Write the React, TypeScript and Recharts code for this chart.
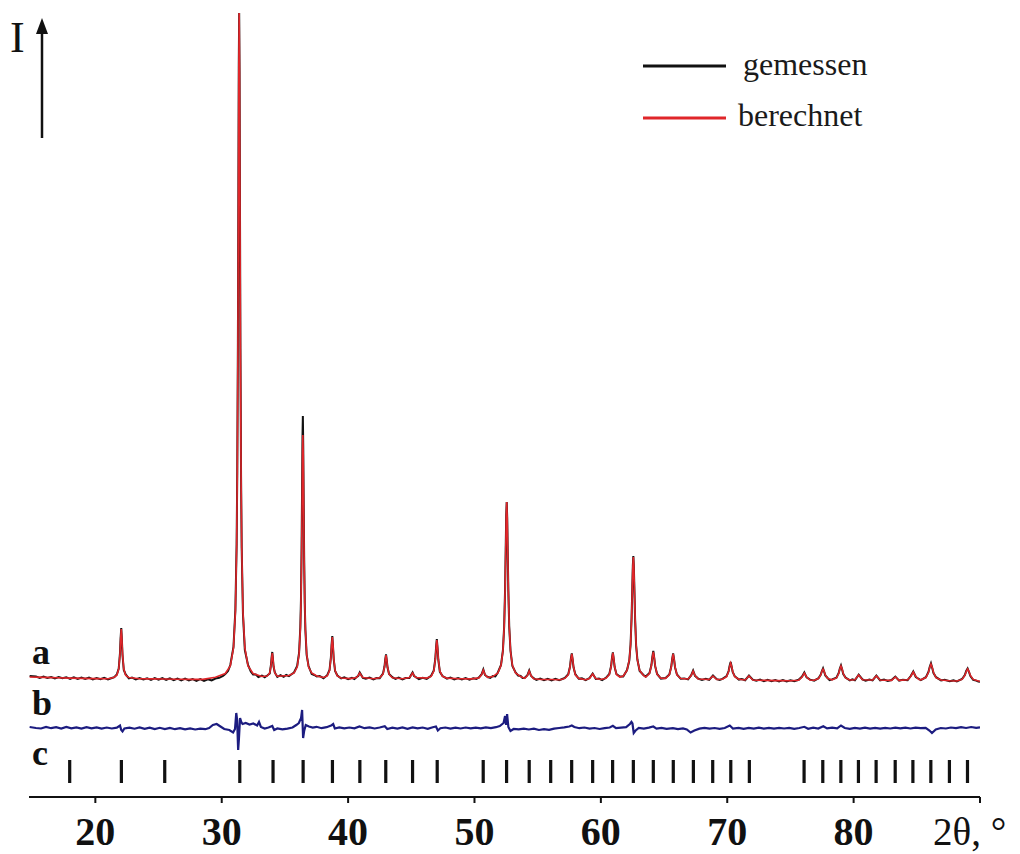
import React from 'react';
import { ComposedChart, Line, Scatter, XAxis, YAxis, Legend } from 'recharts';

// ---- data (2θ in degrees, intensity in arbitrary units incl. curve offsets) ----
const xTicks: number[] = [20, 30, 40, 50, 60, 70, 80, 90];
const axisTitle = '2θ, °';
const legendItems = [
  { name: 'gemessen', color: '#111111' },
  { name: 'berechnet', color: '#e0262a' },
];
const curveLabels = [
  { text: 'a', level: 133 },
  { text: 'b', level: 82 },
  { text: 'c', level: 32 },
];

// measured pattern (a, black)
const gemessen: [number, number][] = [
  [14.8,121],[15.3,120.5],[15.6,119],[15.9,120.5],[16.2,119],[16.5,120],[16.8,118.5],[17.1,120],[17.4,118.8],[17.7,119.8],[18.0,118.2],[18.3,119.6],[18.6,118],[18.9,119.4],[19.2,118],[19.5,119.5],[19.8,117.6],[20.1,119],[20.4,117.8],[20.7,119.2],[21.0,117.6],[21.3,119],[21.5,119.8],
  [21.7,122.5],[21.85,128.5],[21.95,144],[22.0,159],[22.05,169],[22.1,157],[22.15,142],[22.25,127],[22.4,122.5],[22.65,118.6],
  [22.9,119.5],[23.2,117.6],[23.5,119],[23.8,117.5],[24.1,118.8],[24.4,117.2],[24.7,119],[25.0,117.4],[25.3,118.8],[25.6,117.2],[25.9,118.6],[26.2,116.8],[26.5,118.5],[26.8,116.6],[27.1,118.4],[27.4,116.5],[27.7,118],[28.0,116.2],[28.3,117.8],[28.6,116],[28.9,117.6],[29.2,116.5],[29.5,118.5],[29.8,119.2],[30.1,121],[30.28,123],
  [30.5,126],[30.68,132],[30.93,150],[31.08,187],[31.18,253],[31.23,325],[31.28,455],[31.32,612],[31.35,732],[31.38,784],[31.41,725],[31.44,604],[31.48,448],[31.53,320],[31.58,249],[31.68,183],[31.83,147],[32.08,132],[32.3,125.5],[32.48,122.5],[32.7,122.5],[32.9,120],[33.18,121.5],[33.4,119.8],
  [33.6,121.5],[33.8,123.5],[33.9,132.5],[33.95,140],[34.0,145],[34.05,138.5],[34.1,130.5],[34.2,124.5],[34.4,120],[34.65,121.8],[34.9,120.2],[35.1,122],[35.32,120.8],
  [35.55,123],[35.72,124.5],[35.97,131],[36.12,144],[36.22,170],[36.27,197],[36.32,250],[36.36,311],[36.39,359],[36.42,381],[36.45,350],[36.48,303],[36.52,242],[36.57,193],[36.62,167],[36.72,142],[36.87,131],[37.12,123],[37.32,122],[37.52,120.5],[37.75,121],[38.05,118.8],
  [38.35,121.8],[38.53,127],[38.64,140],[38.695,152.5],[38.75,161],[38.805,150.5],[38.86,138],[38.97,126],[39.15,121.5],[39.45,118.5],[39.7,119.6],[40.0,117.8],[40.3,119.2],[40.5,118],
  [40.67,120],[40.8,121],[40.92,124.5],[41.04,122],[41.17,119],[41.4,118.2],[41.7,119.4],[42.0,117.6],[42.25,119],
  [42.5,118.8],[42.76,123.4],[42.88,130.5],[42.94,137.5],[43.0,142.5],[43.06,136.5],[43.12,129.5],[43.24,123],[43.5,119.8],[43.75,118],[44.0,119.3],[44.3,117.6],[44.55,119],
  [44.85,119],[44.98,122],[45.1,124.5],[45.22,121],[45.35,120],[45.6,117.8],[45.9,119.2],[46.22,118.2],
  [46.57,121.2],[46.78,126.5],[46.9,138],[46.96,149.5],[47.02,158],[47.08,148.5],[47.14,137],[47.26,125.2],[47.47,121],[47.82,118.3],[48.1,119.5],[48.4,117.6],[48.7,119],[49.0,117.5],[49.3,118.9],[49.6,117.4],[49.9,118.8],[50.15,118],
  [50.35,119.6],[50.57,122.8],[50.7,127.5],[50.83,122],[51.05,120],[51.25,119.2],
  [51.45,121],[51.65,120.5],[51.85,124.5],[52.1,132],[52.25,146.5],[52.35,171],[52.42,207],[52.47,247],[52.51,281],[52.55,295],[52.59,279],[52.63,245],[52.68,206],[52.75,170],[52.85,146.5],[53.0,131],[53.25,124.5],[53.45,121.5],[53.65,121],[53.8,119],
  [53.98,119.2],[54.19,121.8],[54.33,126.5],[54.47,121.2],[54.68,118.8],[54.9,117],[55.2,118.4],[55.5,116.8],[55.8,118.2],[56.1,116.6],[56.4,118.2],[56.7,116.8],[56.95,118],
  [57.15,119],[57.42,122.8],[57.56,130.5],[57.63,138.5],[57.7,143.5],[57.77,137.2],[57.84,129.5],[57.98,122.8],[58.25,118.2],[58.5,118.6],[58.8,116.8],
  [59.1,119],[59.35,123.5],[59.6,118],[59.85,118.4],[60.1,116.8],
  [60.4,119.2],[60.67,123],[60.81,131],[60.88,139],[60.95,144.5],[61.02,138],[61.09,130],[61.23,123],[61.5,120.5],
  [61.77,120.6],[62.07,127],[62.25,136.5],[62.35,152.5],[62.43,179],[62.49,210.5],[62.53,231.5],[62.57,241],[62.61,230.5],[62.65,209.5],[62.71,178],[62.79,151.5],[62.89,137.5],[63.07,126],[63.37,122],
  [63.55,120.4],[63.85,124],[64.0,132],[64.075,140],[64.15,146],[64.225,139],[64.3,130.6],[64.45,123],[64.75,118.4],
  [65.12,119],[65.42,122.6],[65.57,130.5],[65.645,138.2],[65.72,143.6],[65.795,137.4],[65.87,129.6],[66.02,122.6],[66.32,118.2],[66.6,118.6],
  [66.9,117.6],[67.15,121.8],[67.3,126.5],[67.45,121.2],[67.7,118.4],[68.0,117],[68.3,118.2],
  [68.57,117.2],[68.87,121.5],[69.17,117.8],[69.4,117],
  [69.62,118.2],[69.95,120.8],[70.11,126],[70.19,131.2],[70.27,135],[70.35,130.2],[70.43,125],[70.59,120.8],[70.92,117.4],[71.15,118],
  [71.42,116.8],[71.72,121.5],[72.02,117.4],[72.3,116.2],[72.6,117.4],[72.9,115.8],[73.2,117.2],[73.5,115.8],[73.8,117],[74.1,115.6],[74.4,117],[74.7,115.6],[75.0,116.8],[75.3,115.8],
  [75.65,117.2],[75.92,120.4],[76.1,124.5],[76.28,119.6],[76.55,117.4],[76.88,116.4],
  [77.22,118.8],[77.4,122.4],[77.49,126],[77.58,128.6],[77.67,125.2],[77.76,121.6],[77.94,119],[78.1,116.8],[78.3,117.6],
  [78.64,119.4],[78.82,124],[78.91,128.5],[79.0,131.5],[79.09,127.6],[79.18,123],[79.36,119.4],[79.7,116.6],[79.9,117.6],
  [80.1,116.8],[80.4,122.4],[80.7,117.6],[80.95,116.4],[81.25,117.4],[81.5,116.6],
  [81.8,121.4],[82.1,116.6],[82.4,117.4],[82.7,116],[83.0,117],
  [83.3,120.4],[83.6,116.4],[83.9,117.2],[84.27,116.8],
  [84.52,121],[84.72,125.5],[84.92,120],[85.17,118],[85.32,116.8],
  [85.72,119.8],[85.92,125],[86.02,130],[86.12,133.6],[86.22,129],[86.32,124],[86.52,119.8],[86.92,116.6],[87.2,117.2],[87.6,115.8],[87.9,116.6],[88.17,115.6],
  [88.58,118],[88.8,122],[88.91,126],[89.02,128.5],[89.13,125],[89.24,121],[89.46,117.2],[89.7,116.4],[89.87,115.4],[90,115.2],
];

// calculated pattern (a, red)
const berechnet: [number, number][] = [
  [14.8,120],[16,119.6],[17,119.2],[18,118.9],[19,118.6],[20,118.4],[21,118.3],
  [21.45,119.4],[21.7,121.8],[21.85,128],[21.95,143],[22.0,158],[22.05,168],[22.1,158],[22.15,143],[22.25,128],[22.4,121.8],[22.65,119.4],
  [23.5,118.3],[24.5,118.1],[25.5,118],[26.5,117.8],[27.5,117.6],[28.5,117.6],[29.5,119.8],
  [30.28,123.5],[30.68,131],[30.93,149],[31.08,185],[31.18,251],[31.23,323],[31.28,451],[31.32,608],[31.35,729],[31.38,784],[31.41,729],[31.44,608],[31.48,451],[31.53,323],[31.58,251],[31.68,185],[31.83,149],[32.08,131],[32.48,123.5],[33.18,120.5],
  [33.6,121],[33.8,124],[33.9,131.5],[33.95,139],[34.0,144],[34.05,139],[34.1,131.5],[34.2,124],[34.4,120.8],
  [35.32,121.5],[35.72,124],[35.97,130],[36.12,143],[36.22,168],[36.27,194],[36.32,240],[36.36,298],[36.39,342],[36.42,362],[36.45,342],[36.48,298],[36.52,240],[36.57,194],[36.62,168],[36.72,143],[36.87,130],[37.12,124],[37.52,121],
  [38.05,119.5],[38.35,121],[38.53,126.4],[38.64,139],[38.695,151.6],[38.75,160],[38.805,151.6],[38.86,139],[38.97,126.4],[39.15,121],[39.45,119],
  [40.2,118.4],[40.67,119.5],[40.8,121.5],[40.92,124],[41.04,121.5],[41.17,119.5],
  [42,118.3],[42.5,119.3],[42.76,122.8],[42.88,130],[42.94,137],[43.0,142],[43.06,137],[43.12,130],[43.24,122.8],[43.5,119.3],
  [44.3,118.2],[44.85,119.5],[44.98,121.5],[45.1,124],[45.22,121.5],[45.35,119.5],
  [46.22,118.9],[46.57,120.6],[46.78,125.8],[46.9,137.5],[46.96,149],[47.02,157],[47.08,149],[47.14,137.5],[47.26,125.8],[47.47,120.6],[47.82,118.9],
  [48.8,118.2],[49.8,118.1],[50.35,119.1],[50.57,122.5],[50.7,127],[50.83,122.5],[51.05,119.5],
  [51.45,120.4],[51.85,124],[52.1,131.6],[52.25,146],[52.35,170.6],[52.42,206.5],[52.47,246],[52.51,280],[52.55,295],[52.59,280],[52.63,246],[52.68,206.5],[52.75,170.6],[52.85,146],[53.0,131.6],[53.25,124],[53.65,120.4],
  [53.98,118.6],[54.19,121.5],[54.33,126],[54.47,121.5],[54.68,118.2],
  [55.3,117.5],[56.0,117.5],[56.8,117.3],
  [57.15,118.6],[57.42,122.2],[57.56,130],[57.63,137.8],[57.7,143],[57.77,137.8],[57.84,130],[57.98,122.2],[58.25,118.6],
  [58.8,117.3],[59.1,118.5],[59.35,123],[59.6,118.5],[60.0,117.5],
  [60.4,118.8],[60.67,122.4],[60.81,130.5],[60.88,138.6],[60.95,144],[61.02,138.6],[61.09,130.5],[61.23,122.5],[61.5,120],
  [61.77,121],[62.07,126.5],[62.25,137],[62.35,152],[62.43,178.5],[62.49,210],[62.53,231],[62.57,240],[62.61,231],[62.65,210],[62.71,178.5],[62.79,152],[62.89,137],[63.07,126.5],[63.37,121.5],
  [63.55,120],[63.85,123.5],[64.0,131.5],[64.075,139.5],[64.15,145],[64.225,139.4],[64.3,131],[64.45,122.6],[64.75,118.8],
  [65.12,118.6],[65.42,122.2],[65.57,130],[65.645,137.8],[65.72,143],[65.795,137.8],[65.87,130],[66.02,122.2],[66.32,118.5],
  [66.9,118],[67.15,121.5],[67.3,126],[67.45,121.5],[67.7,118],
  [68.57,117.5],[68.87,121],[69.17,117.5],
  [69.62,117.8],[69.95,120.4],[70.11,125.5],[70.19,130.6],[70.27,134],[70.35,130.6],[70.43,125.5],[70.59,120.4],[70.92,117.8],
  [71.42,117],[71.72,121],[72.02,117],[73,116.6],[74,116.4],[75,116.3],
  [75.65,116.8],[75.92,120],[76.1,124],[76.28,120],[76.55,117],
  [76.88,116.8],[77.22,118.4],[77.4,122],[77.49,125.6],[77.58,128],[77.67,125.6],[77.76,122],[77.94,118.6],
  [78.3,117.2],[78.64,119],[78.82,123.5],[78.91,128],[79.0,131],[79.09,128],[79.18,123.5],[79.36,119],[79.7,117],
  [80.1,117.3],[80.4,122],[80.7,117.3],[81.5,117],[81.8,121],[82.1,117],[83.0,116.6],[83.3,120],[83.6,116.6],
  [84.27,117.3],[84.52,120.5],[84.72,125],[84.92,120.5],[85.17,117.5],
  [85.32,117.2],[85.72,119.4],[85.92,124.5],[86.02,129.6],[86.12,133],[86.22,129.6],[86.32,124.5],[86.52,119.4],[86.92,117],
  [87.6,116.3],[88.17,116],[88.58,117.6],[88.8,121.5],[88.91,125.4],[89.02,128],[89.13,125.4],[89.24,121.5],[89.46,117.6],[89.87,116],[90,115.8],
];

// difference curve (b, blue)
const differenz: [number, number][] = [
  [14.8,70],[15.3,69],[15.7,68.5],[16.1,70],[16.5,68.8],[16.9,69.8],[17.3,68.5],[17.7,70],[18.1,68.6],[18.5,69.6],[18.9,68.4],[19.3,69.8],[19.7,68.6],[20.1,69.6],[20.5,68.4],[20.9,69.5],[21.3,68.5],[21.7,69.4],[21.95,71.5],[22.05,67],[22.15,65.5],[22.3,68.5],[22.7,69.4],[23.1,68.3],[23.5,69.5],[23.9,68.2],[24.3,69.4],[24.7,68],[25.1,69.2],[25.5,68],[25.9,69],[26.3,67.8],[26.7,68.8],[27.1,67.6],[27.5,68.6],[27.9,67.5],[28.3,68.4],[28.7,67.8],[29.0,69],[29.3,72],[29.6,73],[29.9,70.5],[30.2,68],[30.6,67],[30.9,64.5],[31.05,68],[31.15,84],[31.22,77],[31.3,47],[31.36,58],[31.45,79],[31.55,75],[31.65,73],[31.9,74],[32.2,72.5],[32.5,73.5],[32.8,71.5],[32.95,75],[33.1,70],[33.4,68.5],[33.7,69.5],[34.0,71],[34.15,67],[34.4,68.5],[34.8,67.6],[35.2,68.4],[35.6,69.5],[35.9,72],[36.1,74],[36.28,79],[36.36,87],[36.44,59],[36.52,66],[36.65,72],[36.9,70.5],[37.2,69.5],[37.5,70.2],[37.9,68.8],[38.3,69.8],[38.7,71.8],[38.82,73],[38.95,68.5],[39.3,69.6],[39.7,68.6],[40.1,69.5],[40.5,68.6],[40.9,70.5],[41.3,68.8],[41.7,69.6],[42.1,68.5],[42.5,69.5],[42.9,70.8],[43.1,68],[43.5,69.3],[43.9,68.4],[44.3,69.5],[44.7,68.2],[45.1,69.6],[45.5,68.6],[45.9,69.5],[46.3,68.2],[46.7,69.8],[46.95,70.5],[47.1,66.5],[47.3,68.8],[47.7,69.5],[48.1,68.4],[48.5,69.4],[48.9,68.5],[49.3,69.5],[49.7,68.6],[50.1,69.4],[50.5,68.6],[50.9,69.6],[51.3,68.8],[51.7,69.8],[52.0,71],[52.3,74],[52.42,81],[52.5,72],[52.58,83],[52.68,70],[52.85,66],[53.1,68],[53.5,67.6],[53.9,68.4],[54.3,67.5],[54.7,68.4],[55.1,67],[55.5,67.8],[55.9,67.2],[56.3,68.4],[56.7,69],[57.1,69.6],[57.5,70.5],[57.7,71.5],[57.9,70],[58.3,68.8],[58.7,69.5],[59.1,68.4],[59.5,69],[59.9,68],[60.3,68.8],[60.7,69.5],[60.95,71.2],[61.2,68.8],[61.6,69.4],[62.0,69.8],[62.3,73],[62.42,75],[62.5,73.5],[62.6,64],[62.75,66.5],[63.0,69.2],[63.4,68.4],[63.8,69.4],[64.15,70.5],[64.4,68.4],[64.8,69.2],[65.2,68.2],[65.7,68.8],[66.1,67.8],[66.5,68.6],[66.8,67.5],[67.1,64.5],[67.4,66.5],[67.8,68.4],[68.2,69.2],[68.6,68.3],[69.0,69],[69.4,68.2],[69.8,69],[70.2,71.5],[70.45,68.5],[70.9,69.2],[71.3,68.2],[71.7,69.2],[72.1,68.4],[72.5,69.3],[72.9,68.4],[73.3,69.2],[73.7,68.3],[74.1,69.1],[74.5,68.5],[74.9,69.2],[75.3,68.2],[75.7,69],[76.1,70.2],[76.4,68.2],[76.8,69.3],[77.2,68.5],[77.6,70.8],[77.9,68.6],[78.3,69.3],[78.7,68.6],[79.0,71.5],[79.3,69],[79.7,68.2],[80.1,69.2],[80.5,68.4],[80.9,69.3],[81.3,68.4],[81.7,69.2],[82.1,68.3],[82.5,69.2],[82.9,68.5],[83.3,69.4],[83.7,68.6],[84.1,69.4],[84.5,68.5],[84.9,69.4],[85.3,68.8],[85.7,69.2],[86.0,66.5],[86.2,64],[86.5,67.5],[86.9,69],[87.3,68.5],[87.7,69.5],[88.1,68.8],[88.5,69.8],[88.9,69],[89.3,70],[89.7,69.2],[90,69.6],
];

// Bragg reflection positions (c)
const reflexe: number[] = [
  17.97, 22.06, 25.49, 31.43, 34.06, 36.44, 38.76, 40.93, 42.98, 45.10, 47.05, 50.69, 52.54,
  54.33, 56.03, 57.69, 59.35, 60.93, 62.57, 64.15, 65.73, 67.32, 68.85, 70.28, 71.75,
  76.08, 77.56, 78.99, 80.38, 81.78, 83.29, 84.69, 86.11, 87.58, 89.01,
];
const reflexLevel = 25.5;

// ---- chart ----
const W = 1020;
const H = 854;
const SERIF = '"Liberation Serif", "Times New Roman", serif';

const toPts = (arr: [number, number][]) => arr.map(([x, y]) => ({ x, y }));
const gemessenPts = toPts(gemessen);
const berechnetPts = toPts(berechnet);
const differenzPts = toPts(differenz);
const reflexPts = reflexe.map((x) => ({ x, y: reflexLevel }));

const AxisTick = (props: any) => {
  const { x, y, payload } = props;
  if (payload.value === 90) {
    return (
      <text x={x - 47} y={y + 42} fontFamily={SERIF} fontSize={39} fill="#111">
        {axisTitle}
      </text>
    );
  }
  return (
    <text x={x} y={y + 42} textAnchor="middle" fontFamily={SERIF} fontSize={40} fontWeight="bold" fill="#111">
      {payload.value}
    </text>
  );
};

const ReflexMark = (props: any) => {
  const { cx, cy } = props;
  if (cx == null || cy == null) return null;
  return <rect x={cx - 1.6} y={cy - 11.5} width={3.2} height={23} fill="#111" />;
};

const LegendBox = () => (
  <svg width={260} height={110} style={{ display: 'block' }}>
    {legendItems.map((it, i) => (
      <g key={it.name}>
        <line x1={3} x2={86} y1={26 + i * 52} y2={26 + i * 52} stroke={it.color} strokeWidth={3} />
        <text x={i === 0 ? 103 : 98} y={35 + i * 51} fontFamily={SERIF} fontSize={32} fill="#1a1a1a">
          {it.name}
        </text>
      </g>
    ))}
  </svg>
);

export default function App() {
  return (
    <div style={{ position: 'absolute', left: 0, top: 0, width: W, height: H, background: '#fff' }}>
      <ComposedChart
        width={W}
        height={H}
        margin={{ top: 13, right: 40, left: 29, bottom: 0 }}
      >
        <XAxis
          dataKey="x"
          type="number"
          domain={[14.75, 90]}
          ticks={xTicks}
          allowDataOverflow
          height={57}
          axisLine={{ stroke: '#111', strokeWidth: 2 }}
          tickLine={{ stroke: '#111', strokeWidth: 2 }}
          tickSize={6}
          tickMargin={0}
          tick={<AxisTick />}
        />
        <YAxis type="number" domain={[0, 784]} hide width={0} allowDataOverflow dataKey="y" />
        <Legend
          layout="vertical"
          align="center"
          verticalAlign="middle"
          wrapperStyle={{ position: 'absolute', left: 640, top: 40, width: 260, height: 110 }}
          content={() => <LegendBox />}
        />
        <Line
          data={differenzPts}
          dataKey="y"
          name="Differenz"
          type="linear"
          stroke="#1c1c80"
          strokeWidth={2.2}
          dot={false}
          activeDot={false}
          legendType="none"
          isAnimationActive={false}
        />
        <Line
          data={gemessenPts}
          dataKey="y"
          name="gemessen"
          type="linear"
          stroke="#111111"
          strokeWidth={2}
          dot={false}
          activeDot={false}
          isAnimationActive={false}
        />
        <Line
          data={berechnetPts}
          dataKey="y"
          name="berechnet"
          type="linear"
          stroke="#e0262a"
          strokeWidth={1.6}
          dot={false}
          activeDot={false}
          isAnimationActive={false}
        />
        <Scatter
          data={reflexPts}
          dataKey="y"
          name="Reflexe"
          legendType="none"
          shape={<ReflexMark />}
          isAnimationActive={false}
        />
      </ComposedChart>
      <svg
        width={W}
        height={H}
        style={{ position: 'absolute', left: 0, top: 0, pointerEvents: 'none' }}
      >
        <text x={10} y={52} fontFamily={SERIF} fontSize={44} fill="#111">I</text>
        <line x1={42} x2={42} y1={138} y2={30} stroke="#111" strokeWidth={2.5} />
        <polygon points="42,18 36,34 48,34" fill="#111" />
        {curveLabels.map((l) => (
          <text
            key={l.text}
            x={32}
            y={797 - l.level}
            fontFamily={SERIF}
            fontSize={36}
            fontWeight="bold"
            fill="#111"
          >
            {l.text}
          </text>
        ))}
      </svg>
    </div>
  );
}
